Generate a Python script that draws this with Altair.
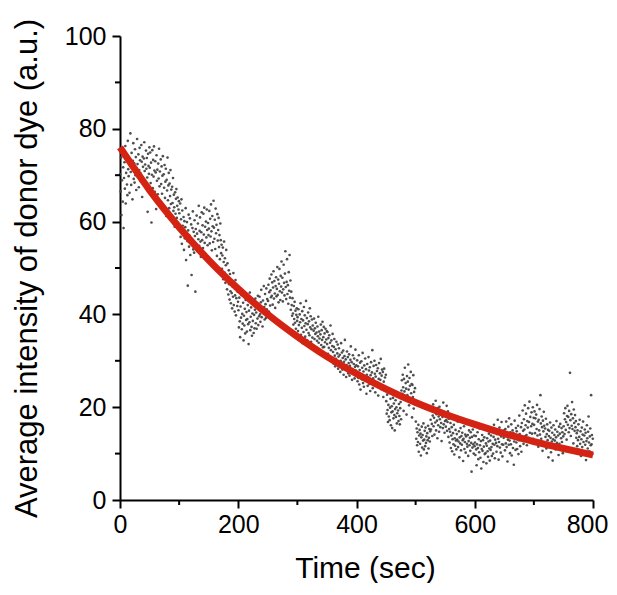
import altair as alt
import pandas as pd

# ---- scatter values (average donor intensity, a.u.), one list per 50-second block ----
seg_000 = [70.2, 66.5, 73.8, 61.4, 68.9, 75.1, 64.3, 71.7, 58.6, 69.4, 72.8, 67.1, 76.3, 63.9, 70.5, 74.2, 68.0, 65.7, 77.4, 71.3, 69.8, 73.5, 66.2, 72.1, 79.0, 70.7, 67.9, 74.8, 71.9, 64.8, 73.1, 76.9, 69.2, 72.6, 68.4, 75.6, 70.0, 73.9, 66.8, 71.5, 77.8, 72.4, 69.6, 74.5, 67.4, 71.1, 75.9, 73.2, 70.4, 68.7, 76.5, 72.9, 65.3, 74.0, 71.8, 69.1, 73.6, 77.1, 70.9, 72.3, 67.7, 75.3, 71.4, 73.7, 69.5, 62.1, 74.6, 72.0, 70.3, 76.0]
seg_050 = [71.6, 74.9, 68.3, 72.7, 59.8, 70.1, 75.4, 67.2, 73.3, 69.7, 76.2, 71.0, 66.4, 73.0, 70.6, 62.7, 74.3, 68.8, 71.2, 65.9, 72.5, 69.3, 75.7, 67.6, 70.8, 64.1, 73.4, 68.1, 71.9, 66.0, 69.9, 74.1, 63.5, 70.2, 67.3, 72.2, 65.1, 68.6, 71.4, 61.2, 69.0, 66.7, 73.8, 64.6, 67.8, 70.5, 62.9, 68.2, 65.5, 71.1, 63.8, 66.9, 60.4, 67.5, 64.0, 69.4, 62.3, 65.8, 63.1, 58.9, 66.3, 61.7, 64.9, 67.0, 60.8, 63.4, 65.2, 59.5, 62.6, 64.4]
seg_100 = [61.8, 58.3, 63.9, 56.7, 60.5, 64.8, 55.2, 62.4, 59.1, 57.6, 61.0, 53.9, 60.1, 56.4, 58.8, 62.9, 51.7, 57.3, 59.9, 55.8, 46.2, 58.1, 61.5, 54.6, 57.0, 60.7, 52.8, 56.1, 59.4, 48.5, 55.5, 58.6, 62.2, 54.0, 57.8, 53.3, 60.3, 56.9, 44.9, 58.4, 55.1, 61.3, 57.4, 53.6, 59.6, 56.2, 63.4, 54.8, 58.0, 60.9, 55.7, 52.4, 57.7, 62.0, 56.0, 59.2, 54.3, 61.7, 57.2, 63.0, 55.4, 58.9, 53.0, 60.0, 56.6, 62.6, 58.2, 54.9, 59.7, 57.1]
seg_150 = [58.5, 62.3, 55.3, 60.6, 56.8, 63.7, 57.9, 53.8, 61.2, 59.0, 55.6, 64.5, 58.7, 56.3, 60.4, 54.1, 62.8, 57.5, 59.3, 52.6, 61.6, 55.9, 58.2, 60.8, 54.5, 57.1, 51.9, 59.6, 56.0, 53.2, 55.0, 49.8, 52.7, 54.4, 47.6, 51.3, 55.7, 49.0, 52.1, 46.8, 50.6, 53.9, 48.2, 45.4, 51.0, 47.9, 44.3, 49.5, 46.5, 43.2, 48.7, 45.0, 42.4, 47.1, 44.6, 41.3, 46.0, 43.8, 48.9, 42.0, 45.7, 40.6, 44.1, 47.4, 39.8, 43.5, 46.3, 41.8, 44.9, 42.7]
seg_200 = [40.9, 37.2, 43.6, 38.5, 35.1, 41.7, 39.3, 44.2, 36.8, 40.1, 38.0, 42.5, 34.4, 39.7, 37.6, 41.2, 35.9, 43.1, 38.8, 40.5, 36.3, 39.0, 42.0, 37.9, 33.6, 40.8, 38.3, 44.7, 36.6, 39.5, 41.5, 37.3, 35.4, 40.2, 38.6, 42.8, 36.0, 39.9, 37.0, 41.0, 43.4, 38.1, 40.4, 36.9, 42.3, 39.1, 44.0, 37.7, 41.9, 39.6, 43.8, 40.0, 38.4, 42.6, 45.3, 39.4, 41.4, 37.4, 43.0, 40.7, 46.1, 41.6, 38.9, 44.4, 42.2, 39.2, 45.6, 41.1, 43.3, 40.3]
seg_250 = [42.9, 46.4, 40.6, 44.8, 47.7, 41.9, 45.2, 43.7, 48.6, 44.0, 46.9, 42.1, 45.8, 49.3, 43.4, 47.2, 44.5, 41.4, 46.1, 48.0, 43.9, 45.5, 50.2, 44.2, 47.5, 42.6, 46.6, 49.8, 45.0, 43.1, 48.3, 46.0, 51.4, 44.7, 47.9, 42.8, 45.4, 50.7, 46.8, 44.1, 48.8, 53.6, 45.9, 43.3, 47.0, 51.9, 44.4, 46.3, 42.3, 49.1, 45.1, 52.8, 43.6, 47.3, 41.0, 44.9, 42.0, 39.7, 43.5, 40.2, 37.8, 41.8, 39.0, 42.7, 38.2, 40.8, 36.9, 39.9, 41.3, 38.6]
seg_300 = [39.4, 36.4, 41.1, 37.7, 34.9, 40.0, 38.3, 42.4, 35.6, 39.0, 37.1, 40.7, 33.8, 38.7, 36.2, 41.6, 37.5, 39.8, 35.2, 38.1, 42.9, 36.7, 39.2, 34.4, 37.9, 40.4, 36.0, 38.5, 35.5, 41.3, 37.2, 39.6, 34.1, 36.8, 38.9, 35.0, 37.6, 33.3, 36.5, 39.1, 34.7, 37.0, 35.8, 38.2, 32.6, 36.1, 34.3, 37.4, 35.3, 39.5, 33.9, 36.3, 34.8, 31.7, 35.7, 37.8, 33.4, 36.6, 34.5, 38.4, 32.9, 35.1, 37.3, 33.0, 35.9, 34.0, 36.9, 31.2, 34.6, 36.4]
seg_350 = [33.6, 36.2, 31.5, 34.9, 32.8, 35.5, 30.7, 33.9, 37.6, 32.3, 34.4, 30.1, 33.2, 35.8, 31.9, 29.4, 33.0, 34.7, 31.1, 28.8, 32.5, 30.4, 34.1, 29.9, 31.6, 33.5, 28.3, 30.9, 32.7, 29.2, 31.3, 27.6, 30.0, 33.8, 29.6, 31.8, 28.1, 30.6, 32.2, 27.0, 29.8, 31.0, 34.5, 28.6, 30.3, 26.5, 29.1, 32.0, 28.4, 30.8, 27.3, 29.5, 31.4, 26.8, 28.9, 30.2, 33.1, 27.8, 29.7, 25.9, 28.2, 31.2, 27.5, 29.3, 30.5, 26.2, 28.7, 32.4, 27.9, 29.0]
seg_400 = [27.4, 30.1, 25.6, 28.8, 26.3, 31.2, 24.9, 28.0, 29.6, 23.8, 27.1, 29.9, 26.0, 28.5, 31.7, 25.2, 27.7, 24.4, 29.0, 26.7, 30.5, 25.8, 28.2, 22.9, 27.0, 29.3, 24.6, 26.5, 30.8, 27.9, 25.0, 28.6, 23.5, 26.9, 29.7, 25.4, 27.5, 32.3, 24.1, 26.2, 28.9, 25.7, 30.0, 27.2, 23.2, 26.6, 29.1, 24.8, 27.8, 25.3, 28.4, 22.5, 26.1, 29.5, 24.3, 27.3, 25.9, 30.4, 23.9, 26.8, 28.1, 24.7, 27.6, 22.2, 25.5, 28.3, 23.6, 26.4, 24.0, 27.0]
seg_450 = [21.3, 18.6, 22.7, 19.4, 16.8, 20.5, 18.0, 23.1, 17.2, 19.9, 21.8, 16.1, 18.9, 20.2, 15.5, 19.1, 22.0, 17.6, 20.8, 18.3, 15.0, 19.6, 21.5, 17.9, 20.0, 16.5, 18.7, 22.4, 19.3, 17.0, 20.7, 18.1, 16.3, 19.8, 21.1, 17.4, 23.6, 25.8, 22.9, 27.0, 24.3, 19.2, 26.1, 23.4, 28.5, 21.9, 25.2, 24.0, 18.4, 26.7, 22.6, 25.5, 29.2, 23.8, 20.4, 26.3, 24.6, 21.6, 27.6, 23.0, 25.0, 17.8, 24.8, 22.2, 26.9, 19.7, 23.3, 21.0, 24.1, 20.6]
seg_500 = [16.9, 13.2, 15.4, 11.8, 14.6, 12.5, 16.2, 10.4, 13.9, 15.1, 12.1, 14.3, 9.6, 13.5, 15.8, 11.3, 14.0, 12.8, 16.5, 10.9, 13.0, 14.9, 11.6, 15.6, 12.3, 13.7, 10.1, 14.4, 12.9, 16.0, 11.1, 13.4, 15.3, 12.6, 14.8, 17.3, 15.2, 19.4, 16.4, 13.8, 18.2, 20.6, 15.9, 17.7, 14.1, 19.0, 16.7, 21.4, 15.0, 18.5, 17.1, 13.3, 19.8, 16.1, 18.0, 14.7, 20.1, 17.4, 15.7, 19.2, 16.6, 12.7, 18.8, 17.9, 15.5, 21.0, 16.3, 18.6, 14.5, 17.0]
seg_550 = [18.3, 15.8, 17.2, 20.3, 14.9, 16.8, 19.1, 13.6, 17.5, 15.3, 12.4, 14.7, 16.6, 11.2, 13.9, 15.7, 10.5, 13.1, 14.4, 12.0, 16.2, 9.8, 13.3, 11.7, 15.1, 12.8, 10.9, 14.2, 13.0, 16.9, 11.4, 12.6, 14.8, 9.2, 13.5, 12.2, 15.5, 10.7, 13.8, 11.9, 14.5, 12.9, 8.4, 13.2, 15.9, 11.0, 12.5, 14.1, 10.2, 13.7, 16.4, 12.1, 11.5, 14.0, 9.5, 12.7, 15.0, 11.8, 13.4, 10.6, 14.6, 12.3, 6.1, 13.6, 11.3, 15.2, 12.0, 10.0, 13.9, 11.6]
seg_600 = [12.4, 9.7, 13.8, 10.9, 7.5, 12.0, 14.6, 11.2, 8.8, 13.1, 10.3, 15.4, 11.8, 9.1, 12.7, 6.8, 11.0, 14.0, 10.6, 12.9, 8.2, 11.5, 13.5, 9.9, 15.9, 10.1, 12.2, 7.9, 11.7, 13.3, 10.5, 9.3, 12.6, 14.3, 11.1, 8.5, 12.8, 10.8, 13.9, 11.4, 9.5, 14.8, 12.1, 10.0, 13.6, 16.2, 11.9, 9.0, 13.0, 15.1, 12.3, 10.4, 14.2, 11.6, 17.3, 13.2, 8.7, 12.5, 15.6, 11.3, 14.1, 10.2, 13.7, 16.8, 12.0, 9.4, 14.5, 11.9, 13.4, 15.0]
seg_650 = [13.8, 10.7, 15.3, 12.2, 16.9, 11.4, 14.1, 8.3, 13.0, 15.8, 11.9, 17.6, 12.8, 10.1, 14.6, 12.0, 16.3, 9.6, 13.5, 15.0, 11.2, 14.4, 7.6, 12.6, 17.1, 13.3, 10.8, 15.5, 12.4, 14.8, 11.0, 13.9, 16.0, 9.9, 12.9, 18.2, 14.2, 11.6, 13.6, 15.7, 10.4, 16.6, 13.1, 19.3, 14.9, 12.1, 17.4, 15.2, 20.4, 13.7, 16.1, 18.6, 14.0, 11.8, 17.0, 15.6, 19.8, 13.4, 16.8, 21.2, 14.5, 17.9, 12.5, 15.9, 18.9, 14.3, 16.4, 20.0, 13.2, 17.7]
seg_700 = [16.2, 19.1, 14.4, 17.6, 12.7, 18.4, 15.3, 20.5, 13.9, 16.9, 11.5, 17.3, 15.0, 19.6, 14.1, 22.6, 16.5, 13.2, 18.0, 15.7, 10.6, 17.1, 14.8, 19.0, 16.0, 12.4, 15.4, 13.6, 17.5, 11.1, 14.2, 16.3, 12.9, 15.1, 9.2, 13.8, 14.9, 12.0, 16.7, 13.4, 10.3, 15.6, 12.6, 14.5, 8.5, 13.1, 16.1, 11.7, 14.0, 12.8, 15.2, 10.9, 13.5, 17.0, 12.3, 14.7, 11.3, 13.9, 9.7, 15.8, 12.1, 14.3, 16.4, 11.0, 13.3, 15.5, 12.5, 14.6, 10.1, 13.7]
seg_750 = [15.9, 18.7, 14.2, 17.4, 19.8, 15.1, 16.8, 13.0, 18.1, 20.3, 16.2, 17.9, 14.6, 19.2, 15.5, 27.4, 17.2, 13.8, 18.5, 16.0, 21.1, 15.3, 17.6, 12.2, 19.5, 16.6, 14.9, 18.3, 15.7, 17.0, 13.4, 14.4, 11.6, 15.0, 12.9, 16.3, 10.8, 13.6, 17.3, 12.1, 14.8, 9.5, 13.1, 15.6, 11.4, 14.1, 16.9, 12.5, 10.2, 13.9, 15.2, 11.9, 14.5, 8.6, 12.7, 16.1, 13.3, 11.1, 14.7, 18.0, 12.4, 10.5, 13.7, 15.4, 11.8, 22.6, 12.0, 14.0, 9.9, 13.2]

segments = [seg_000, seg_050, seg_100, seg_150, seg_200, seg_250, seg_300, seg_350,
            seg_400, seg_450, seg_500, seg_550, seg_600, seg_650, seg_700, seg_750]
block_starts = [0, 50, 100, 150, 200, 250, 300, 350, 400, 450, 500, 550, 600, 650, 700, 750]
block_length = 50

# ---- fitted decay curve ----
curve_time = [0, 50, 100, 150, 200, 250, 300, 350, 400, 450, 500, 550, 600, 650, 700, 750, 800]
curve_value = [76.0, 66.8, 58.8, 51.7, 45.5, 40.0, 35.2, 30.9, 27.2, 23.9, 21.0, 18.5, 16.3, 14.3, 12.6, 11.1, 9.7]

# ---- axis ticks ----
x_major = [0, 200, 400, 600, 800]
x_minor = [100, 300, 500, 700]
y_major = [0, 20, 40, 60, 80, 100]
y_minor = [10, 30, 50, 70, 90]

rows = []
for start, seg in zip(block_starts, segments):
    n = len(seg)
    for i, v in enumerate(seg):
        rows.append({"time": start + (i + 0.5) * block_length / n, "value": v})
scatter_df = pd.DataFrame(rows)
curve_df = pd.DataFrame({"time": curve_time, "value": curve_value})
xminor_df = pd.DataFrame({"time": x_minor})
yminor_df = pd.DataFrame({"value": y_minor})

xscale = alt.Scale(domain=[0, 800], nice=False, zero=False)
yscale = alt.Scale(domain=[0, 100], nice=False, zero=False)

xaxis = alt.Axis(values=x_major, title="Time (sec)", labelPadding=4, labelFlush=False,
                 labelOffset={"condition": {"test": "datum.value == 800", "value": -6}, "value": 0},
                 titleX=245, titleY=77, titleBaseline="alphabetic", titleFontSize=30)
yaxis = alt.Axis(values=y_major, title="Average intensity of donor dye (a.u.)", labelPadding=6,
                 labelFlush=False,
                 titleX=-84, titleY=232, titleBaseline="alphabetic", titleAlign="center",
                 titleFontSize=31)

X = lambda: alt.X("time:Q", scale=xscale, axis=xaxis)
Y = lambda: alt.Y("value:Q", scale=yscale, axis=yaxis)

points = alt.Chart(scatter_df).mark_circle(size=7, color="#444444", opacity=0.95).encode(x=X(), y=Y())
curve = alt.Chart(curve_df).mark_line(color="#d42313", strokeWidth=7, interpolate="monotone").encode(x=X(), y=Y())
xminor = alt.Chart(xminor_df).mark_rule(color="black", strokeWidth=2).encode(
    x=X(), y=alt.value(464), y2=alt.value(469))
yminor = alt.Chart(yminor_df).mark_rule(color="black", strokeWidth=2).encode(
    y=Y(), x=alt.value(-5), x2=alt.value(0))

chart = alt.layer(points, curve, xminor, yminor).properties(
    width=473, height=464,
    autosize=alt.AutoSizeParams(type="none"),
    padding={"left": 112, "top": 28, "right": 16, "bottom": 83},
).configure_view(stroke="transparent").configure_axis(
    grid=False,
    labelFont="Liberation Sans", titleFont="Liberation Sans",
    labelFontSize=25, titleFontWeight="normal",
    labelColor="black", titleColor="black",
    domainColor="black", domainWidth=2,
    tickColor="black", tickWidth=2, tickSize=8,
)

chart.save("out.html", embed_options={"renderer": "svg", "actions": False})
